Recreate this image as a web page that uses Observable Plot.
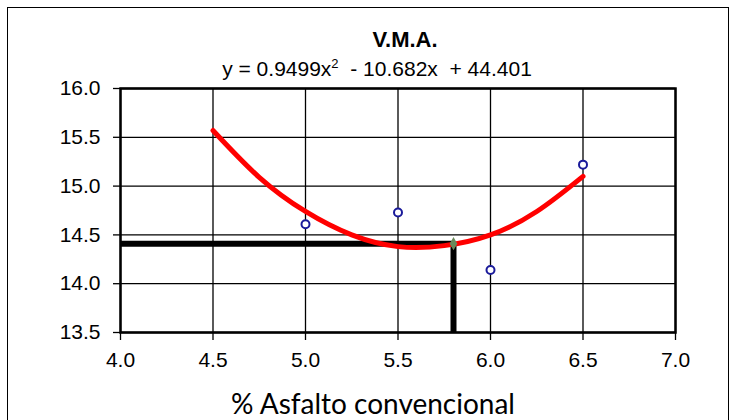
<!DOCTYPE html>
<html>
<head>
<meta charset="utf-8">
<script src="https://cdn.jsdelivr.net/npm/d3@7"></script>
<script src="https://cdn.jsdelivr.net/npm/@observablehq/plot@0.6"></script>
<style>
  html, body { margin: 0; padding: 0; background: #fff; }
  #wrap { position: relative; width: 743px; height: 420px; overflow: hidden; background: #fff; }
  #border { position: absolute; left: 7px; top: 7px; width: 722px; height: 430px; border: 1.5px solid #000; box-sizing: border-box; }
  .t { position: absolute; white-space: nowrap; font-family: "Liberation Sans", Arial, sans-serif; color: #000; line-height: 1; }
  #title { left: 405px; top: 29px; transform: translateX(-50%); font-size: 22px; font-weight: bold; }
  #eq { left: 377px; top: 58px; transform: translateX(-50%); font-size: 21px; white-space: pre; }
  #eq sup { font-size: 13px; vertical-align: 8px; line-height: 0; }
  #xt { left: 373px; top: 389px; transform: translateX(-50%); font-size: 28px; font-family: "Lato", "Open Sans", sans-serif; }
  #plot { position: absolute; left: 0; top: 0; }
</style>
</head>
<body>
<div id="wrap">
  <div id="plot"></div>
  <div id="border"></div>
  <div class="t" id="title">V.M.A.</div>
  <div class="t" id="eq">y = 0.9499x<sup>2</sup>  - 10.682x  + 44.401</div>
  <div class="t" id="xt">% Asfalto convencional</div>
</div>
<script>
// Measured points (% asphalt, V.M.A.)
const asphalt = [5.0, 5.5, 6.0, 6.5];
const vma = [14.61, 14.73, 14.14, 15.22];

// Red trend curve
const curveX = [4.5, 4.75, 5.0, 5.25, 5.5, 5.75, 6.0, 6.25, 6.5];
const curveY = [15.57, 15.09, 14.74, 14.50, 14.38, 14.39, 14.50, 14.74, 15.10];

// Optimum reading lines
const optX = 5.8;
const optY = 14.41;

const xTicks = [4.0, 4.5, 5.0, 5.5, 6.0, 6.5, 7.0];
const yTicks = [13.5, 14.0, 14.5, 15.0, 15.5, 16.0];

const points = asphalt.map((x, i) => ({x, y: vma[i]}));
const curve = curveX.map((x, i) => ({x, y: curveY[i]}));

const chart = Plot.plot({
  width: 743,
  height: 420,
  marginLeft: 120,
  marginRight: 68,
  marginTop: 88,
  marginBottom: 88,
  style: {fontFamily: "'Liberation Sans', Arial, sans-serif", fontSize: "21px", background: "transparent", color: "#000"},
  x: {domain: [4.0, 7.0], ticks: xTicks, tickFormat: d3.format(".1f"), label: null},
  y: {domain: [13.5, 16.0], ticks: yTicks, tickFormat: d3.format(".1f"), label: null},
  marks: [
    Plot.gridX(xTicks, {stroke: "#000", strokeOpacity: 1, strokeWidth: 1.3}),
    Plot.gridY(yTicks, {stroke: "#000", strokeOpacity: 1, strokeWidth: 1.3}),
    Plot.axisX({ticks: xTicks, tickSize: 8, tickPadding: 12, tickFormat: d3.format(".1f"), label: null, fontSize: 21, strokeWidth: 1.3}),
    Plot.axisY({ticks: yTicks, tickSize: 7, tickPadding: 13, tickFormat: d3.format(".1f"), label: null, fontSize: 21, strokeWidth: 1.3}),
    Plot.frame({stroke: "#000", strokeWidth: 2.5}),
    Plot.ruleY([optY], {x1: 4.0, x2: optX, stroke: "#000", strokeWidth: 6}),
    Plot.ruleX([optX], {y1: 13.5, y2: optY, stroke: "#000", strokeWidth: 6}),
    Plot.line(curve, {x: "x", y: "y", curve: "natural", stroke: "#ff0000", strokeWidth: 5, strokeLinecap: "round"}),
    Plot.dot([{x: optX, y: optY}], {x: "x", y: "y", symbol: "diamond", r: 4, fill: "#6a8a5a", stroke: "none"}),
    Plot.dot(points, {x: "x", y: "y", r: 4, stroke: "#1a1a9a", strokeWidth: 2, fill: "#fff"})
  ]
});
document.getElementById("plot").appendChild(chart);
</script>
</body>
</html>
